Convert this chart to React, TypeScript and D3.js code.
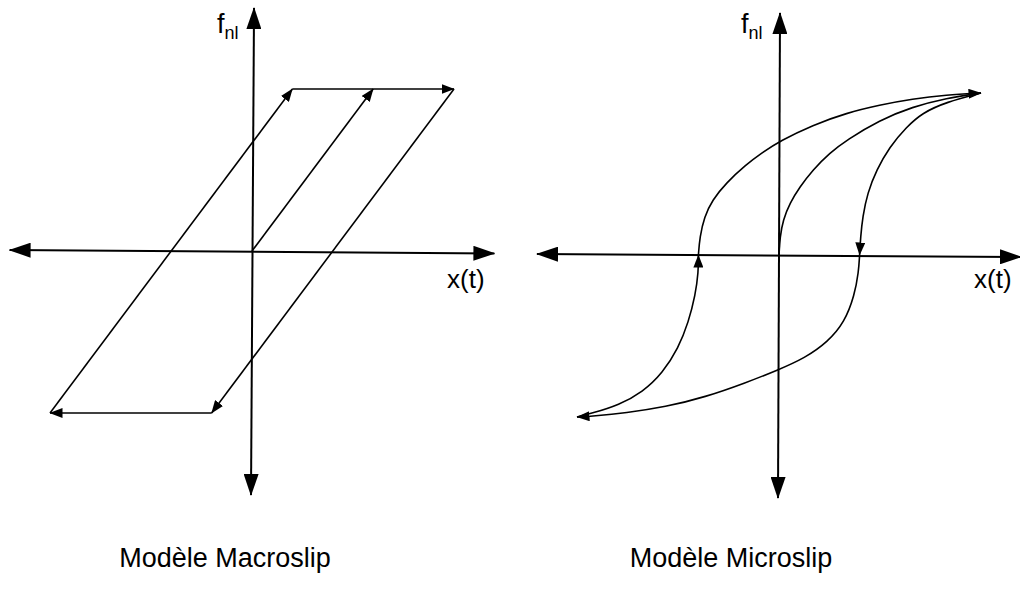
import React from "react";
import * as d3 from "d3";

const width = 1020;
const height = 597;
const unitX = 202; // pixels per unit of displacement
const unitF = 162; // pixels per unit of force

type Pt = [number, number];

// Modèle Macroslip (x, f) in normalised units
const macroUp: Pt[] = [[-1, -1], [0.2, 1]];
const macroTop: Pt[] = [[0.2, 1], [1, 1]];
const macroDown: Pt[] = [[1, 1], [-0.2, -1]];
const macroBottom: Pt[] = [[-0.2, -1], [-1, -1]];
const macroVirgin: Pt[] = [[0, 0], [0.6, 1]];
const macroAxisH: Pt[] = [[-1.2, 0.006], [1.2, -0.015]];
const macroAxisV: Pt[] = [[-0.005, -1.506], [0.01, 1.5]];

// Modèle Microslip
const microUpLow: Pt[] = [
  [-1, -1], [-0.921, -0.975], [-0.793, -0.926], [-0.675, -0.846], [-0.576, -0.728],
  [-0.498, -0.574], [-0.448, -0.414], [-0.414, -0.247], [-0.399, -0.105], [-0.399, 0],
];
const microUpHigh: Pt[] = [
  [-0.399, 0], [-0.392, 0.111], [-0.37, 0.235], [-0.33, 0.34], [-0.262, 0.444],
  [-0.165, 0.556], [-0.085, 0.63], [0.005, 0.704], [0.167, 0.802], [0.335, 0.877],
  [0.498, 0.926], [0.66, 0.963], [0.828, 0.988], [1, 1],
];
const microDownHigh: Pt[] = [
  [1, 1], [0.828, 0.944], [0.709, 0.877], [0.631, 0.79], [0.547, 0.667],
  [0.483, 0.525], [0.438, 0.383], [0.414, 0.235], [0.404, 0.111], [0.399, 0],
];
const microDownLow: Pt[] = [
  [0.399, 0], [0.394, -0.105], [0.374, -0.247], [0.325, -0.414], [0.241, -0.537],
  [0.128, -0.636], [-0.005, -0.71], [-0.167, -0.79], [-0.365, -0.877], [-0.562, -0.938],
  [-0.759, -0.975], [-0.921, -0.994], [-1, -1],
];
const microVirgin: Pt[] = [
  [0, 0], [0.005, 0.111], [0.02, 0.216], [0.054, 0.321], [0.103, 0.42],
  [0.167, 0.525], [0.251, 0.63], [0.335, 0.71], [0.498, 0.833], [0.66, 0.914],
  [0.828, 0.969], [1, 1],
];
const microAxisH: Pt[] = [[-1.198, 0.006], [1.198, -0.012]];
const microAxisV: Pt[] = [[-0.005, -1.5], [0.005, 1.494]];

const titles = ["Modèle Macroslip", "Modèle Microslip"];
const xLabel = "x(t)";

const panels = [
  {
    title: titles[0],
    origin: [252, 251],
    axisH: macroAxisH,
    axisV: macroAxisV,
    branches: [
      { pts: macroUp, arrow: true },
      { pts: macroTop, arrow: true },
      { pts: macroDown, arrow: true },
      { pts: macroBottom, arrow: true },
      { pts: macroVirgin, arrow: true },
    ],
    curved: false,
    titleX: 225,
    fLabel: [217, 33],
    xLabelPos: [447, 288],
  },
  {
    title: titles[1],
    origin: [779, 255],
    axisH: microAxisH,
    axisV: microAxisV,
    branches: [
      { pts: microUpLow, arrow: true },
      { pts: microUpHigh, arrow: true },
      { pts: microDownHigh, arrow: true },
      { pts: microDownLow, arrow: true },
      { pts: microVirgin, arrow: false },
    ],
    curved: true,
    titleX: 731,
    fLabel: [741, 33],
    xLabelPos: [974, 288],
  },
];

const font = "'Liberation Sans', Arial, sans-serif";

function Panel({ p }: { p: (typeof panels)[number] }) {
  const [ox, oy] = p.origin;
  const x = d3.scaleLinear().domain([-1, 1]).range([ox - unitX, ox + unitX]);
  const y = d3.scaleLinear().domain([-1, 1]).range([oy + unitF, oy - unitF]);
  const straight = d3.line<Pt>().x((d) => x(d[0])).y((d) => y(d[1]));
  const curve = d3
    .line<Pt>()
    .x((d) => x(d[0]))
    .y((d) => y(d[1]))
    .curve(d3.curveBasis);
  const branchLine = p.curved ? curve : straight;

  return (
    <g>
      <path d={straight(p.axisH) || ""} stroke="#000" strokeWidth={2} fill="none"
        markerStart="url(#axisArrow)" markerEnd="url(#axisArrow)" />
      <path d={straight(p.axisV) || ""} stroke="#000" strokeWidth={2} fill="none"
        markerStart="url(#axisArrow)" markerEnd="url(#axisArrow)" />
      {p.branches.map((b, i) => (
        <path
          key={i}
          d={branchLine(b.pts) || ""}
          stroke="#000"
          strokeWidth={1.6}
          fill="none"
          markerEnd={b.arrow ? "url(#curveArrow)" : undefined}
        />
      ))}
      <text x={p.fLabel[0]} y={p.fLabel[1]} fontSize={27} fontFamily={font}>
        f<tspan fontSize={18} dy={6}>nl</tspan>
      </text>
      <text x={p.xLabelPos[0]} y={p.xLabelPos[1]} fontSize={26} fontFamily={font}>
        {xLabel}
      </text>
      <text x={p.titleX} y={567} fontSize={27} fontFamily={font} textAnchor="middle">
        {p.title}
      </text>
    </g>
  );
}

export default function App() {
  return (
    <svg
      width={width}
      height={height}
      style={{ position: "absolute", left: 0, top: 0, background: "#fff" }}
    >
      <defs>
        <marker id="axisArrow" viewBox="0 0 22 15" refX={21} refY={7.5}
          markerWidth={22} markerHeight={15} markerUnits="userSpaceOnUse"
          orient="auto-start-reverse">
          <path d="M0,0L22,7.5L0,15Z" fill="#000" />
        </marker>
        <marker id="curveArrow" viewBox="0 0 13 10" refX={12.5} refY={5}
          markerWidth={13} markerHeight={10} markerUnits="userSpaceOnUse"
          orient="auto">
          <path d="M0,0L13,5L0,10Z" fill="#000" />
        </marker>
      </defs>
      {panels.map((p, i) => (
        <Panel key={i} p={p} />
      ))}
    </svg>
  );
}
